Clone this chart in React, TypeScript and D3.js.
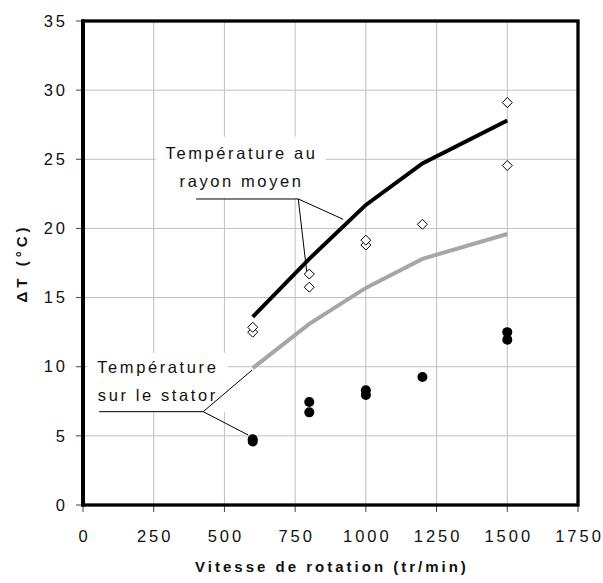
import React from "react";
import * as d3 from "d3";

// ---- data ----
const modelSpeeds = [600, 800, 1000, 1200, 1500];
const rayonModel = [13.6, 17.8, 21.7, 24.7, 27.8];
const statorModel = [9.9, 13.1, 15.7, 17.8, 19.6];

const rayonMeasX = [600, 600, 800, 800, 1000, 1000, 1200, 1500, 1500];
const rayonMeasY = [12.5, 12.85, 15.75, 16.7, 18.8, 19.15, 20.3, 24.55, 29.1];
const statorMeasX = [600, 600, 800, 800, 1000, 1000, 1200, 1500, 1500];
const statorMeasY = [4.6, 4.75, 6.7, 7.45, 7.95, 8.3, 9.25, 11.95, 12.5];

const xTicks = [0, 250, 500, 750, 1000, 1250, 1500, 1750];
const yTicks = [0, 5, 10, 15, 20, 25, 30, 35];

const xTitle = "Vitesse de rotation (tr/min)";
const yTitle = "ΔT (°C)";
const rayonLabel = ["Température au", "rayon moyen"];
const statorLabel = ["Température", "sur le stator"];

// annotation geometry in data units
const rayonBox = { x0: 257, x1: 858, y0: 22.13, y1: 26.63 };
const rayonText = { x: 556, y: [25.0, 23.0] };
const rayonLeader = { x0: 400, x1: 761, y: 22.13, ends: [[920, 20.66], [791, 16.87]] };
const statorBox = { x0: 15, x1: 511, y0: 6.72, y1: 10.99 };
const statorText = { x: 260, y: [9.52, 7.54] };
const statorLeader = { x0: 57, x1: 425, y: 6.75, ends: [[598, 9.76], [584, 5.06]] };

const W = 603, H = 583;
const L = 83, R = 578, T = 21, B = 505;
const FONT = "'Liberation Sans', Arial, sans-serif";

export default function App() {
  const x = d3.scaleLinear().domain([0, 1750]).range([L, R]);
  const y = d3.scaleLinear().domain([0, 35]).range([B, T]);
  const line = d3
    .line<number>()
    .x((_, i) => x(modelSpeeds[i]))
    .y((d) => y(d));

  const diamond = (cx: number, cy: number, s = 5) =>
    `M${cx},${cy - s}L${cx + s},${cy}L${cx},${cy + s}L${cx - s},${cy}Z`;

  const leader = (ld: typeof rayonLeader) => (
    <g stroke="#000" strokeWidth={1} fill="none">
      <line x1={x(ld.x0)} x2={x(ld.x1)} y1={y(ld.y)} y2={y(ld.y)} />
      {ld.ends.map((e, i) => (
        <line key={i} x1={x(ld.x1)} y1={y(ld.y)} x2={x(e[0])} y2={y(e[1])} />
      ))}
    </g>
  );

  return (
    <svg
      width={W}
      height={H}
      style={{ position: "absolute", left: 0, top: 0, background: "#fff" }}
      fontFamily={FONT}
    >
      <rect x={0} y={0} width={W} height={H} fill="#fff" />
      {/* grid */}
      <g stroke="#c0c0c0" strokeWidth={1}>
        {xTicks.slice(1, -1).map((t) => (
          <line key={"gx" + t} x1={x(t)} x2={x(t)} y1={T} y2={B} />
        ))}
        {yTicks.slice(1, -1).map((t) => (
          <line key={"gy" + t} x1={L} x2={R} y1={y(t)} y2={y(t)} />
        ))}
      </g>
      {/* annotation boxes (mask grid) */}
      <rect
        x={x(rayonBox.x0)}
        y={y(rayonBox.y1)}
        width={x(rayonBox.x1) - x(rayonBox.x0)}
        height={y(rayonBox.y0) - y(rayonBox.y1)}
        fill="#fff"
      />
      <rect
        x={x(statorBox.x0)}
        y={y(statorBox.y1)}
        width={x(statorBox.x1) - x(statorBox.x0)}
        height={y(statorBox.y0) - y(statorBox.y1)}
        fill="#fff"
      />
      {/* ticks */}
      <g stroke="#444" strokeWidth={1}>
        {yTicks.map((t) => (
          <line key={"ty" + t} x1={L - 7} x2={L} y1={y(t)} y2={y(t)} />
        ))}
        {xTicks.map((t) => (
          <line key={"tx" + t} x1={x(t)} x2={x(t)} y1={B} y2={B + 7} />
        ))}
      </g>
      {/* model curves */}
      <path d={line(statorModel) || ""} fill="none" stroke="#a6a6a6" strokeWidth={4} />
      <path d={line(rayonModel) || ""} fill="none" stroke="#000" strokeWidth={4} />
      {/* leaders */}
      {leader(rayonLeader)}
      {leader(statorLeader)}
      {/* markers */}
      {rayonMeasY.map((v, i) => (
        <path
          key={"d" + i}
          d={diamond(x(rayonMeasX[i]), y(v))}
          fill="#fff"
          stroke="#000"
          strokeWidth={1}
        />
      ))}
      {statorMeasY.map((v, i) => (
        <circle key={"c" + i} cx={x(statorMeasX[i])} cy={y(v)} r={5} fill="#000" />
      ))}
      {/* frame */}
      <rect x={L} y={T} width={R - L} height={B - T} fill="none" stroke="#000" strokeWidth={3.3} />
      <line x1={L} x2={L} y1={T - 1.6} y2={B + 1.6} stroke="#000" strokeWidth={4} />
      {/* tick labels */}
      <g fontSize={16.5} fill="#111" letterSpacing={3}>
        {yTicks.map((t) => (
          <text key={"ly" + t} x={L - 15} y={y(t)} dy="0.35em" textAnchor="end">
            {t}
          </text>
        ))}
        {xTicks.map((t) => (
          <text key={"lx" + t} x={x(t) + 1.5} y={542} textAnchor="middle">
            {t}
          </text>
        ))}
      </g>
      {/* annotations text */}
      <g fontSize={16.5} fill="#111" letterSpacing={2.6} textAnchor="middle">
        {rayonLabel.map((s, i) => (
          <text key={"r" + i} x={x(rayonText.x) + 1.3} y={y(rayonText.y[i])}>
            {s}
          </text>
        ))}
        {statorLabel.map((s, i) => (
          <text key={"s" + i} x={x(statorText.x) + 1.3} y={y(statorText.y[i])}>
            {s}
          </text>
        ))}
      </g>
      {/* axis titles */}
      <text
        x={(L + R) / 2 + 1.5}
        y={572}
        textAnchor="middle"
        fontWeight="bold"
        fontSize={15}
        letterSpacing={3}
        fill="#111"
      >
        {xTitle}
      </text>
      <text
        transform={`translate(26.5, ${(T + B) / 2}) rotate(-90)`}
        textAnchor="middle"
        fontWeight="bold"
        fontSize={15}
        letterSpacing={4}
        fill="#111"
      >
        {yTitle}
      </text>
    </svg>
  );
}
